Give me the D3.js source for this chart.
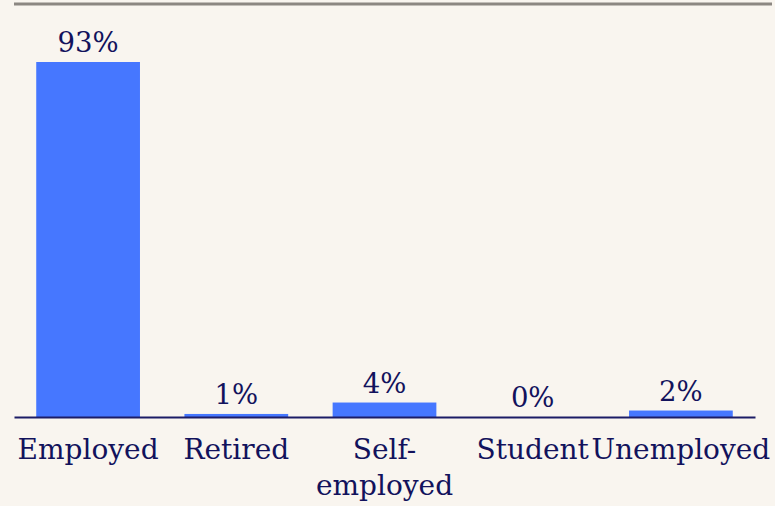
<!DOCTYPE html>
<html>
<head>
<meta charset="utf-8">
<script src="https://cdn.jsdelivr.net/npm/d3@7/dist/d3.min.js"></script>
<style>
  html, body { margin: 0; padding: 0; background: #f9f5ef; }
  svg { display: block; }
  text { font-family: "DejaVu Serif", Georgia, serif; fill: #12125c; }
</style>
</head>
<body>
<div id="chart"></div>
<script>
const categories = ["Employed", "Retired", "Self-employed", "Student", "Unemployed"];
const categoryLines = [["Employed"], ["Retired"], ["Self-", "employed"], ["Student"], ["Unemployed"]];
const values = [93.2, 0.8, 3.8, 0, 1.7];

const W = 775, H = 506;
const left = 14, right = 755, baseY = 417, topY = 62;

const svg = d3.select("#chart").append("svg").attr("width", W).attr("height", H);
svg.append("rect").attr("width", W).attr("height", H).attr("fill", "#f9f5ef");

// top rule
svg.append("line").attr("x1", 14).attr("x2", 772).attr("y1", 4).attr("y2", 4)
  .attr("stroke", "#8c8782").attr("stroke-width", 3);

const x = d3.scaleBand().domain(categories).range([left, right]).paddingInner(0.3).paddingOuter(0.15);
const y = d3.scaleLinear().domain([0, d3.max(values)]).range([baseY, topY]);

const data = categories.map((c, i) => ({ c, v: values[i], lines: categoryLines[i] }));

svg.selectAll("rect.bar").data(data).join("rect").attr("class", "bar")
  .attr("x", d => x(d.c)).attr("width", x.bandwidth())
  .attr("y", d => y(d.v)).attr("height", d => baseY - y(d.v))
  .attr("fill", "#4677ff");

svg.selectAll("text.val").data(data).join("text").attr("class", "val")
  .attr("x", d => x(d.c) + x.bandwidth() / 2)
  .attr("y", d => y(d.v) - 10)
  .attr("text-anchor", "middle").attr("font-size", 27.5)
  .text(d => Math.round(d.v) + "%");

// baseline axis
const axis = d3.axisBottom(x).tickSize(0).tickFormat("");
const g = svg.append("g").attr("transform", `translate(0,${baseY})`).call(axis);
g.select(".domain").attr("stroke", "#1c1c66").attr("stroke-width", 2);

const lbl = svg.selectAll("text.cat").data(data).join("text").attr("class", "cat")
  .attr("x", d => x(d.c) + x.bandwidth() / 2)
  .attr("y", baseY + 42)
  .attr("text-anchor", "middle").attr("font-size", 28);
lbl.selectAll("tspan").data(d => d.lines.map(l => ({ l, x: x(d.c) + x.bandwidth() / 2 })))
  .join("tspan").attr("x", t => t.x).attr("dy", (t, i) => i === 0 ? 0 : 36).text(t => t.l);
</script>
</body>
</html>
